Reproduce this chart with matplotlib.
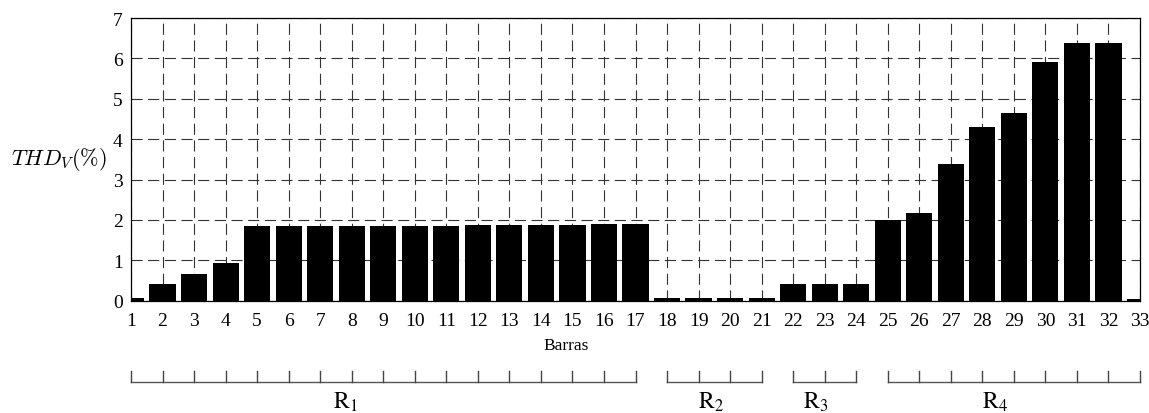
import matplotlib
matplotlib.use("Agg")
import matplotlib.pyplot as plt
from matplotlib.transforms import blended_transform_factory

buses = list(range(1, 34))
thd = [0.07, 0.41, 0.66, 0.93, 1.84, 1.85, 1.85, 1.85, 1.86, 1.86, 1.86, 1.87,
       1.87, 1.88, 1.88, 1.89, 1.91, 0.07, 0.07, 0.07, 0.07, 0.41, 0.41, 0.41,
       1.99, 2.18, 3.39, 4.31, 4.64, 5.90, 6.37, 6.37, 0.03]
groups_start = [1, 18, 22, 25]
groups_end = [17, 21, 24, 33]
group_labels = [r"$\mathrm{R}_1$", r"$\mathrm{R}_2$", r"$\mathrm{R}_3$", r"$\mathrm{R}_4$"]
group_label_x = [7.8, 19.4, 22.7, 28.4]

plt.rcParams['font.family'] = ['Liberation Serif', 'DejaVu Serif']
plt.rcParams['mathtext.fontset'] = 'cm'

fig = plt.figure(figsize=(11.49, 4.14), dpi=100)
ax = fig.add_axes([131/1149, 1-301.7/414, (1140-131)/1149, (301.7-19)/414])
ax.bar(buses, thd, width=0.83, color='black', zorder=2)
ax.set_xlim(1, 33)
ax.set_ylim(0, 7)
ax.set_xticks(buses)
ax.set_yticks(range(0, 8))
ax.set_axisbelow(True)
ax.grid(True, color='#333333', linestyle=(0, (10, 5)), linewidth=0.8)
ax.tick_params(axis='both', direction='in', length=0, labelsize=14)
ax.tick_params(axis='x', pad=8)
ax.tick_params(axis='y', pad=6)
for s in ax.spines.values():
    s.set_linewidth(0.9)
    s.set_color('black')
    s.set_zorder(3)

fig.text(566/1149, 1-346/414, 'Barras', ha='center', va='center', fontsize=12.5)
fig.text(59/1149, 1-160/414, r'$THD_V(\%)$', ha='center', va='center', fontsize=16)

tr = blended_transform_factory(ax.transData, fig.transFigure)
y_line = 1-383/414
y_top = 1-372/414
for s, e, lab, lx in zip(groups_start, groups_end, group_labels, group_label_x):
    fig.add_artist(plt.Line2D([s, e], [y_line, y_line], transform=tr, color='#555555', lw=1.0))
    for k in range(s, e+1):
        fig.add_artist(plt.Line2D([k, k], [y_line, y_top], transform=tr, color='#444444', lw=1.0))
    fig.text(lx, 1-409/414, lab, transform=tr, ha='center', va='baseline',
             fontsize=17, math_fontfamily='stix')

fig.savefig('out.png', dpi=100)
